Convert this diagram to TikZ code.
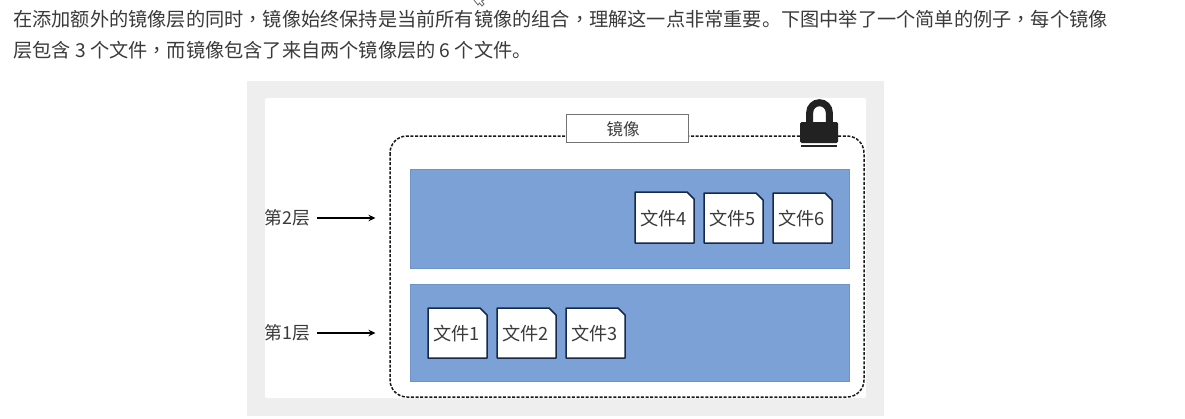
\documentclass[tikz,border=0pt]{standalone}
\usepackage{fontspec}
\setmainfont{Noto Sans CJK SC}
\newfontfamily\tcfont{Noto Sans CJK TC}
\usetikzlibrary{arrows.meta}
\definecolor{txt}{HTML}{3A3A3A}
\definecolor{frame}{HTML}{EEEEEE}
\definecolor{layer}{HTML}{7BA1D6}
\definecolor{layeredge}{HTML}{6E93C6}
\definecolor{fileedge}{HTML}{17294A}
\definecolor{lockc}{HTML}{222222}
\newcommand{\cma}{{\tcfont ，}}
\tikzset{
  para/.style={anchor=west,inner sep=0pt,text=txt,font=\fontsize{19.2}{20}\selectfont},
  layerbox/.style={draw=layeredge,line width=0.8pt,fill=layer,inner sep=0pt,anchor=north west},
  filebody/.style={draw=fileedge,line width=1.5pt,fill=white,line join=round},
  filetext/.style={inner sep=0pt,text=txt,font=\fontsize{18.2}{20}\selectfont},
  sidelabel/.style={inner sep=0pt,text=txt,font=\fontsize{17.8}{20}\selectfont},
  sidearrow/.style={draw=black,line width=1.8pt,-{Stealth[length=7pt,width=6.5pt]}},
  imgbox/.style={draw,dash pattern=on 3pt off 1.6pt,line width=1.5pt,color=black!90},
}
% name, left, top, right, bottom, text
\newcommand{\filenode}[6]{%
  \draw[filebody] (#2,#3) -- ({#4-7},#3) -- (#4,{#3+7}) -- (#4,#5) -- (#2,#5) -- cycle;
  \node[filetext] (#1) at ({(#2+#4)/2-1},{(#3+#5)/2+1}) {#6};
}
\begin{document}
\begin{tikzpicture}[x=1pt,y=-1pt]
\useasboundingbox (0,0) rectangle (1185,418);
\fill[white] (0,0) rectangle (1185,418);
% text
\node[para] (line1) at (13,19) {在添加额外的镜像层的同时\cma 镜像始终保持是当前所有镜像的组合\cma 理解这一点非常重要。下图中举了一个简单的例子\cma 每个镜像};
\node[para] (line2) at (13,50.5) {层包含 3 个文件\cma 而镜像包含了来自两个镜像层的 6 个文件。};
% mouse cursor at the top edge
\draw[black!60,line width=0.8pt,fill=white] (474,0) -- (478,5) -- (479.5,3) -- (482,6) -- (484,4) -- (481.5,1) -- (484,0);
% frame
\fill[frame] (247,81) rectangle (884,416);
\fill[white,rounded corners=2pt] (265,98) rectangle (866,398);
% image dashed box
\draw[imgbox,rounded corners=17pt] (390,136) rectangle (864,397);
% layers
\node[layerbox,minimum width=439pt,minimum height=99pt] (layer2) at (410,169) {};
\node[layerbox,minimum width=439pt,minimum height=97pt] (layer1) at (410,284) {};
% title
\node[draw=black!55,line width=1pt,fill=white,minimum width=122pt,minimum height=28pt,inner sep=0pt] (title) at (627,128.5) {};
\node[inner sep=0pt,text=txt,font=\fontsize{16.5}{20}\selectfont] (titletext) at (623,129) {镜像};
% files
\filenode{f1}{428}{308}{487}{358}{文件1}
\filenode{f2}{497}{308}{556}{358}{文件2}
\filenode{f3}{566}{308}{625}{358}{文件3}
\filenode{f4}{635}{192}{694}{243}{文件4}
\filenode{f5}{704}{193}{763}{243}{文件5}
\filenode{f6}{773}{193}{832}{243}{文件6}
% side labels
\node[sidelabel] (l2) at (287.5,218) {第2层};
\node[sidelabel] (l1) at (287.5,333) {第1层};
\coordinate (a2) at (375.5,218);
\coordinate (a1) at (375.5,333);
\draw[sidearrow] (l2.east) ++(7,0) -- (a2);
\draw[sidearrow] (l1.east) ++(7,0) -- (a1);
% lock
\draw[lockc,line width=7pt] (809.7,125) -- (809.7,112.5) arc[start angle=180,end angle=360,radius=9.8] -- (829.3,125);
\fill[lockc,rounded corners=1.5pt] (800,122) rectangle (838,143);
\fill[lockc] (801,145) rectangle (837,147);
\end{tikzpicture}
\end{document}
